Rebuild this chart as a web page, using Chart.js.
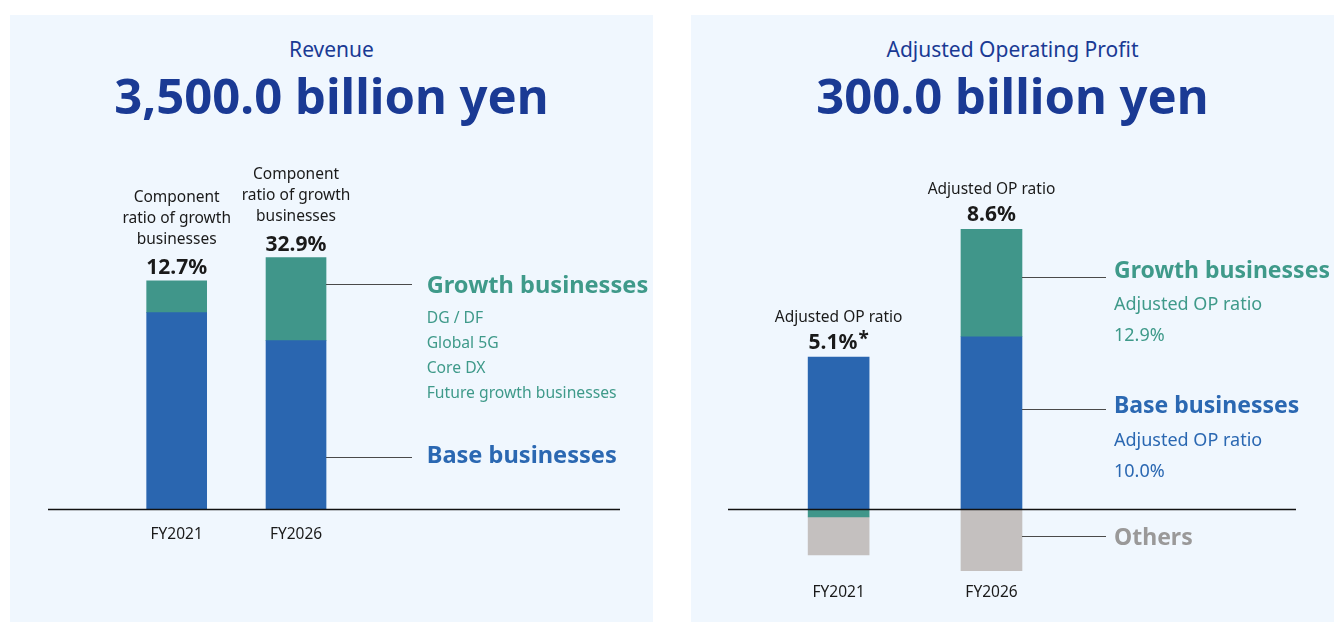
<!DOCTYPE html>
<html>
<head>
<meta charset="utf-8">
<script src="https://cdn.jsdelivr.net/npm/chart.js@4/dist/chart.umd.min.js"></script>
<style>
  body { margin: 0; background: #fff; font-family: "Noto Sans", sans-serif; }
  .panel { position: absolute; top: 15px; height: 607px; background: #f0f7fe; }
  #leftPanel { left: 10px; width: 643px; }
  #rightPanel { left: 691px; width: 643px; }
  .sub, .big { position: absolute; left: 0; right: 0; text-align: center; color: #1a3a94; white-space: nowrap; }
  .sub { top: 22px; font-size: 21px; line-height: 24px; }
  .big { top: 50px; font-size: 49px; line-height: 60px; font-weight: 700; }
  canvas { position: absolute; left: 0; top: 0; }
</style>
</head>
<body>
<div class="panel" id="leftPanel">
  <div class="sub">Revenue</div>
  <div class="big">3,500.0 billion yen</div>
  <canvas id="revenueChart" width="643" height="607"></canvas>
</div>
<div class="panel" id="rightPanel">
  <div class="sub">Adjusted Operating Profit</div>
  <div class="big">300.0 billion yen</div>
  <canvas id="profitChart" width="643" height="607"></canvas>
</div>
<script>
const years = ["FY2021", "FY2026"];

// revenue, billion yen
const revenueBase = [2735, 2344];
const revenueGrowth = [442, 1156];
const growthShare = ["12.7%", "32.9%"];
const growthItems = ["DG / DF", "Global 5G", "Core DX", "Future growth businesses"];

// adjusted operating profit, billion yen
const opBase = [209, 237];
const opGrowth = [-11, 148];
const opOthers = [-52, -85];
const opMargin = ["5.1%", "8.6%"];
const opNotes = ["*", ""];
const growthMargin = "12.9%";
const baseMargin = "10.0%";

const BLUE = "#2a66b0";
const GREEN = "#40968a";
const GREY = "#c4c0bf";
const INK = "#1a1a1a";
const font = (w, s) => `${w} ${s}px "Noto Sans"`;

const overlay = {
  id: "overlay",
  afterDatasetsDraw(chart, args, o) {
    const { ctx } = chart;
    const xs = chart.scales.x, ys = chart.scales.y;
    const y0 = Math.round(ys.getPixelForValue(0)) + 0.5;
    ctx.save();

    // base line
    ctx.strokeStyle = "#111";
    ctx.lineWidth = 1.5;
    ctx.beginPath();
    ctx.moveTo(o.axis[0], y0);
    ctx.lineTo(o.axis[1], y0);
    ctx.stroke();

    ctx.textAlign = "center";
    ctx.textBaseline = "alphabetic";
    ctx.fillStyle = INK;
    chart.data.labels.forEach((lab, i) => {
      const cx = xs.getPixelForValue(i);
      let top = 0;
      chart.data.datasets.forEach((d) => { if (d.data[i] > 0) top += d.data[i]; });
      const ty = ys.getPixelForValue(top);

      ctx.font = font(400, 15.5);
      ctx.fillText(lab, cx, o.labelY);

      // heading above each bar
      o.head.forEach((line, k) => {
        ctx.font = font(400, 15.5);
        ctx.fillText(line, cx, ty - o.headGap - (o.head.length - 1 - k) * 21);
      });
      ctx.font = font(700, 21);
      const val = o.values[i];
      const note = o.notes ? o.notes[i] : "";
      if (note) {
        const w = ctx.measureText(val).width;
        ctx.font = font(700, 19);
        const nw = ctx.measureText(note).width;
        const left = cx - (w + nw + 1) / 2;
        ctx.textAlign = "left";
        ctx.fillText(note, left + w + 1, ty - o.valueGap - 4);
        ctx.font = font(700, 21);
        ctx.fillText(val, left, ty - o.valueGap);
        ctx.textAlign = "center";
      } else {
        ctx.fillText(val, cx, ty - o.valueGap);
      }
    });

    // callouts off the last bar
    const meta = chart.getDatasetMeta(0).data[1];
    const edge = meta.x + meta.width / 2;
    ctx.textAlign = "left";
    o.callouts.forEach((c) => {
      ctx.strokeStyle = "#4a4a4a";
      ctx.lineWidth = 1;
      ctx.beginPath();
      ctx.moveTo(edge, Math.round(c.y) + 0.5);
      ctx.lineTo(o.lineEnd, Math.round(c.y) + 0.5);
      ctx.stroke();
      ctx.fillStyle = c.color;
      ctx.font = font(700, o.titleSize);
      ctx.fillText(c.title, o.textX, c.base);
      ctx.font = font(400, o.itemSize);
      (c.items || []).forEach((t, k) => ctx.fillText(t, o.textX, c.itemBase + k * o.itemStep));
    });
    ctx.restore();
  },
};

function makeChart(id, datasets, yMin, yMax, padding, barW, overlayOpts) {
  return new Chart(document.getElementById(id), {
    type: "bar",
    data: {
      labels: years,
      datasets: datasets.map((d) => ({ ...d, barThickness: barW, borderWidth: 0 })),
    },
    options: {
      responsive: false,
      animation: false,
      layout: { padding },
      scales: {
        x: { display: false, stacked: true },
        y: { display: false, stacked: true, min: yMin, max: yMax },
      },
      plugins: {
        legend: { display: false },
        tooltip: { enabled: false },
        overlay: overlayOpts,
      },
    },
    plugins: [overlay],
  });
}

makeChart(
  "revenueChart",
  [
    { label: "Base businesses", data: revenueBase, backgroundColor: BLUE },
    { label: "Growth businesses", data: revenueGrowth, backgroundColor: GREEN },
  ],
  0, 4860,
  { left: 107, right: 297.3, top: 145, bottom: 113 },
  60,
  {
    axis: [38, 610],
    labelY: 524.3,
    head: ["Component", "ratio of growth", "businesses"],
    headGap: 37,
    values: growthShare,
    valueGap: 7,
    lineEnd: 402,
    textX: 416.7,
    titleSize: 23.6,
    itemSize: 15.7,
    itemStep: 25,
    callouts: [
      { y: 269.3, title: "Growth businesses", base: 278, color: "#3f9a8a", items: growthItems, itemBase: 307.7 },
      { y: 441.7, title: "Base businesses", base: 448.3, color: "#2b68b2" },
    ],
  }
);

makeChart(
  "profitChart",
  [
    { label: "Base businesses", data: opBase, backgroundColor: BLUE },
    { label: "Growth businesses", data: opGrowth, backgroundColor: GREEN },
    { label: "Others", data: opOthers, backgroundColor: GREY },
  ],
  -125.2, 425.2,
  { left: 71.2, right: 266.1, top: 185, bottom: 22 },
  61,
  {
    axis: [37, 605],
    labelY: 582.3,
    head: ["Adjusted OP ratio"],
    headGap: 35,
    values: opMargin,
    notes: opNotes,
    valueGap: 8,
    lineEnd: 415,
    textX: 423,
    titleSize: 23,
    itemSize: 18,
    itemStep: 30.7,
    callouts: [
      { y: 262, title: "Growth businesses", base: 262.5, color: "#3f9a8a", items: ["Adjusted OP ratio", growthMargin], itemBase: 295 },
      { y: 394.3, title: "Base businesses", base: 398, color: "#2b68b2", items: ["Adjusted OP ratio", baseMargin], itemBase: 431 },
      { y: 520.7, title: "Others", base: 530, color: "#9a9999" },
    ],
  }
);
</script>
</body>
</html>
